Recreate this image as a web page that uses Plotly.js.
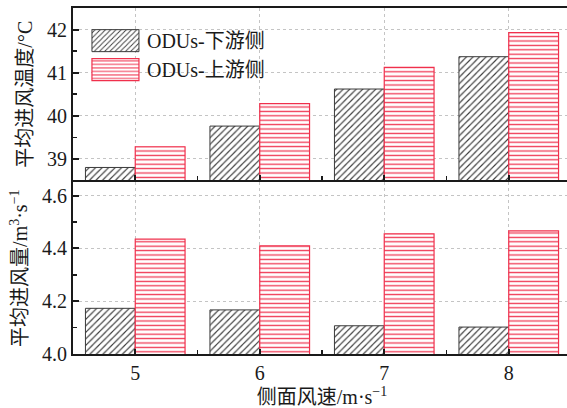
<!DOCTYPE html>
<html>
<head>
<meta charset="utf-8">
<script src="https://cdn.plot.ly/plotly-3.0.1.min.js"></script>
<style>html,body{margin:0;padding:0;overflow:hidden;background:#fff;}</style>
</head>
<body>
<div id="chart"></div>
<script>
// Data
const windSpeed = [5, 6, 7, 8];
const seriesNames = ['ODUs-下游侧', 'ODUs-上游侧'];
const tempDownstream = [38.80, 39.76, 40.62, 41.37];
const tempUpstream = [39.28, 40.28, 41.12, 41.93];
const flowDownstream = [4.173, 4.167, 4.107, 4.102];
const flowUpstream = [4.435, 4.410, 4.455, 4.466];
const tempTicks = [39, 40, 41, 42];
const flowTicks = [4.0, 4.2, 4.4, 4.6];

const FONT = "'Liberation Serif', 'Times New Roman', 'Noto Sans CJK SC', serif";
const grayStyle = {
  color: '#ffffff',
  line: {color: '#3a3a3a', width: 1},
  pattern: {shape: '/', fgcolor: '#3a3a3a', bgcolor: '#ffffff', size: 4.6, solidity: 0.25}
};
const redStyle = {
  color: '#ffffff',
  line: {color: '#f0304c', width: 1.2},
  pattern: {shape: '-', fgcolor: '#f03a55', bgcolor: '#ffffff', size: 4.4, solidity: 0.3}
};

const traces = [
  {type: 'bar', x: windSpeed, y: tempDownstream, name: seriesNames[0], legendgroup: 'a',
   xaxis: 'x2', yaxis: 'y2', marker: grayStyle},
  {type: 'bar', x: windSpeed, y: tempUpstream, name: seriesNames[1], legendgroup: 'b',
   xaxis: 'x2', yaxis: 'y2', marker: redStyle},
  {type: 'bar', x: windSpeed, y: flowDownstream, name: seriesNames[0], legendgroup: 'a', showlegend: false,
   xaxis: 'x', yaxis: 'y', marker: grayStyle},
  {type: 'bar', x: windSpeed, y: flowUpstream, name: seriesNames[1], legendgroup: 'b', showlegend: false,
   xaxis: 'x', yaxis: 'y', marker: redStyle}
];

const axisCommon = {
  showline: true, linecolor: '#1a1a1a', linewidth: 2, mirror: true,
  ticks: 'inside', ticklen: 6, tickwidth: 2, tickcolor: '#1a1a1a',
  showgrid: true, gridcolor: '#c4c4c4', griddash: 'dot', gridwidth: 1,
  zeroline: false,
  tickfont: {family: FONT, size: 20, color: '#1a1a1a'}
};

const PLOT_H = 408 - 7.5 - 53.5;
const split = 0.496;
const gap = 2 / PLOT_H;

const layout = {
  width: 580, height: 408,
  margin: {l: 73, r: 8.5, t: 7.5, b: 53.5},
  paper_bgcolor: '#ffffff', plot_bgcolor: '#ffffff',
  font: {family: FONT, color: '#1a1a1a'},
  barmode: 'group', bargap: 0.2, bargroupgap: 0,
  showlegend: true,
  legend: {x: 0.022, y: 0.962, xanchor: 'left', yanchor: 'top',
           font: {family: FONT, size: 20, color: '#1a1a1a'},
           bgcolor: 'rgba(0,0,0,0)', tracegroupgap: 0, itemwidth: 53},
  xaxis: Object.assign({}, axisCommon, {
    anchor: 'y', domain: [0, 1], range: [4.5, 8.5],
    tickvals: windSpeed, ticktext: windSpeed.map(String), ticklen: 5,
    minor: {tickvals: [5.5, 6.5, 7.5], ticks: 'inside', ticklen: 4, tickwidth: 1.5, tickcolor: '#1a1a1a', showgrid: false},
    title: {text: '侧面风速/m·s<sup>−1</sup>', font: {family: FONT, size: 20, color: '#1a1a1a'}, standoff: 6}
  }),
  xaxis2: Object.assign({}, axisCommon, {
    anchor: 'y2', matches: 'x', range: [4.5, 8.5], domain: [0, 1],
    tickvals: windSpeed, showticklabels: false, ticklen: 5,
    minor: {tickvals: [5.5, 6.5, 7.5], ticks: 'inside', ticklen: 4, tickwidth: 1.5, tickcolor: '#1a1a1a', showgrid: false}
  }),
  yaxis: Object.assign({}, axisCommon, {
    anchor: 'x', domain: [0, split], range: [4.0, 4.65],
    tickvals: flowTicks, ticktext: flowTicks.map(v => v.toFixed(1)),
    minor: {dtick: 0.1, tick0: 4.0, ticks: 'inside', ticklen: 4, tickwidth: 1.5, tickcolor: '#1a1a1a', showgrid: false},
    title: {text: '平均进风量/m<sup>3</sup>·s<sup>−1</sup>', font: {family: FONT, size: 20, color: '#1a1a1a'}, standoff: 9}
  }),
  yaxis2: Object.assign({}, axisCommon, {
    anchor: 'x2', domain: [split + gap, 1], range: [38.5, 42.5],
    tickvals: tempTicks, ticktext: tempTicks.map(String),
    minor: {dtick: 0.5, tick0: 38.5, ticks: 'inside', ticklen: 4, tickwidth: 1.5, tickcolor: '#1a1a1a', showgrid: false},
    title: {text: '平均进风温度/°C', font: {family: FONT, size: 20, color: '#1a1a1a'}, standoff: 9}
  })
};

Plotly.newPlot('chart', traces, layout, {displayModeBar: false, staticPlot: true}).then(gd => {
  // enlarge legend swatches to the reference's wide rectangles
  gd.querySelectorAll('.legend .legendpoints path').forEach(p => {
    p.setAttribute('d', 'M-23.5,-11H23.5V11H-23.5Z');
  });
});
</script>
</body>
</html>
